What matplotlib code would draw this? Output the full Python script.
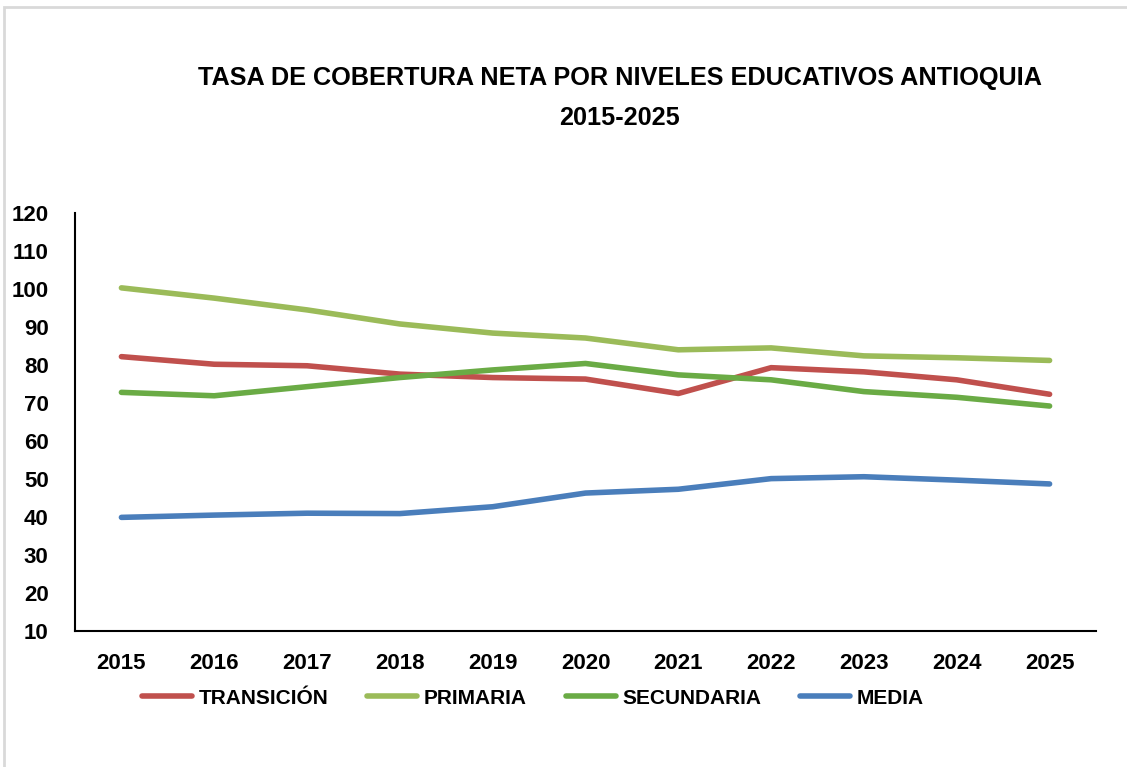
import numpy as np
import matplotlib.pyplot as plt
from matplotlib.patches import Rectangle

plt.rcParams['font.family'] = ['Liberation Sans', 'DejaVu Sans']
plt.rcParams['font.weight'] = 'bold'

years = ['2015', '2016', '2017', '2018', '2019', '2020', '2021', '2022', '2023', '2024', '2025']
transicion = [82.2, 80.2, 79.8, 77.6, 76.7, 76.3, 72.5, 79.3, 78.2, 76.1, 72.3]
primaria = [100.3, 97.6, 94.5, 90.8, 88.4, 87.1, 84.0, 84.5, 82.4, 81.9, 81.2]
secundaria = [72.8, 71.9, 74.3, 76.7, 78.7, 80.4, 77.4, 76.1, 73.0, 71.5, 69.2]
media = [39.9, 40.5, 41.0, 40.9, 42.7, 46.3, 47.3, 50.1, 50.6, 49.7, 48.7]

series = [('TRANSICIÓN', transicion, '#C0504D'),
          ('PRIMARIA', primaria, '#9BBB59'),
          ('SECUNDARIA', secundaria, '#6AAB45'),
          ('MEDIA', media, '#4A7EBB')]

fig = plt.figure(figsize=(11.27, 7.67), dpi=100)
ax = fig.add_axes([75/1127, 1-631/767, (1096-75)/1127, (631-213)/767])

x = np.arange(len(years))
for name, vals, col in series:
    ax.plot(x, vals, color=col, lw=4, solid_capstyle='round',
            solid_joinstyle='round', label=name)

ax.set_xlim(-0.5, len(years)-0.5)
ax.set_ylim(10, 120)
ax.set_yticks(np.arange(10, 121, 10))
ax.set_xticks(x)
ax.set_xticklabels(years)
ax.tick_params(length=0, labelsize=16)
ax.tick_params(axis='y', pad=19)
ax.tick_params(axis='x', pad=16)
for s in ['top', 'right']:
    ax.spines[s].set_visible(False)
for s in ['left', 'bottom']:
    ax.spines[s].set_linewidth(1.5)

fig.text(620/1127, 1-78/767, 'TASA DE COBERTURA NETA POR NIVELES EDUCATIVOS ANTIOQUIA',
         ha='center', va='center', fontsize=18.2, fontweight='bold')
fig.text(620/1127, 1-118/767, '2015-2025', ha='center', va='center',
         fontsize=18.2, fontweight='bold')

ax.legend(loc='center', bbox_to_anchor=(533/1127, 1-698/767),
          bbox_transform=fig.transFigure, ncol=4, frameon=False,
          fontsize=15, handlelength=2.4, handletextpad=0.33, columnspacing=1.85)

# gray frame edges
fig.add_artist(Rectangle((4/1127, -0.01), 1.2, 1-7/767+0.01, transform=fig.transFigure,
                         fill=False, edgecolor='#d9d9d9', lw=2))

fig.savefig('out.png', dpi=100)
